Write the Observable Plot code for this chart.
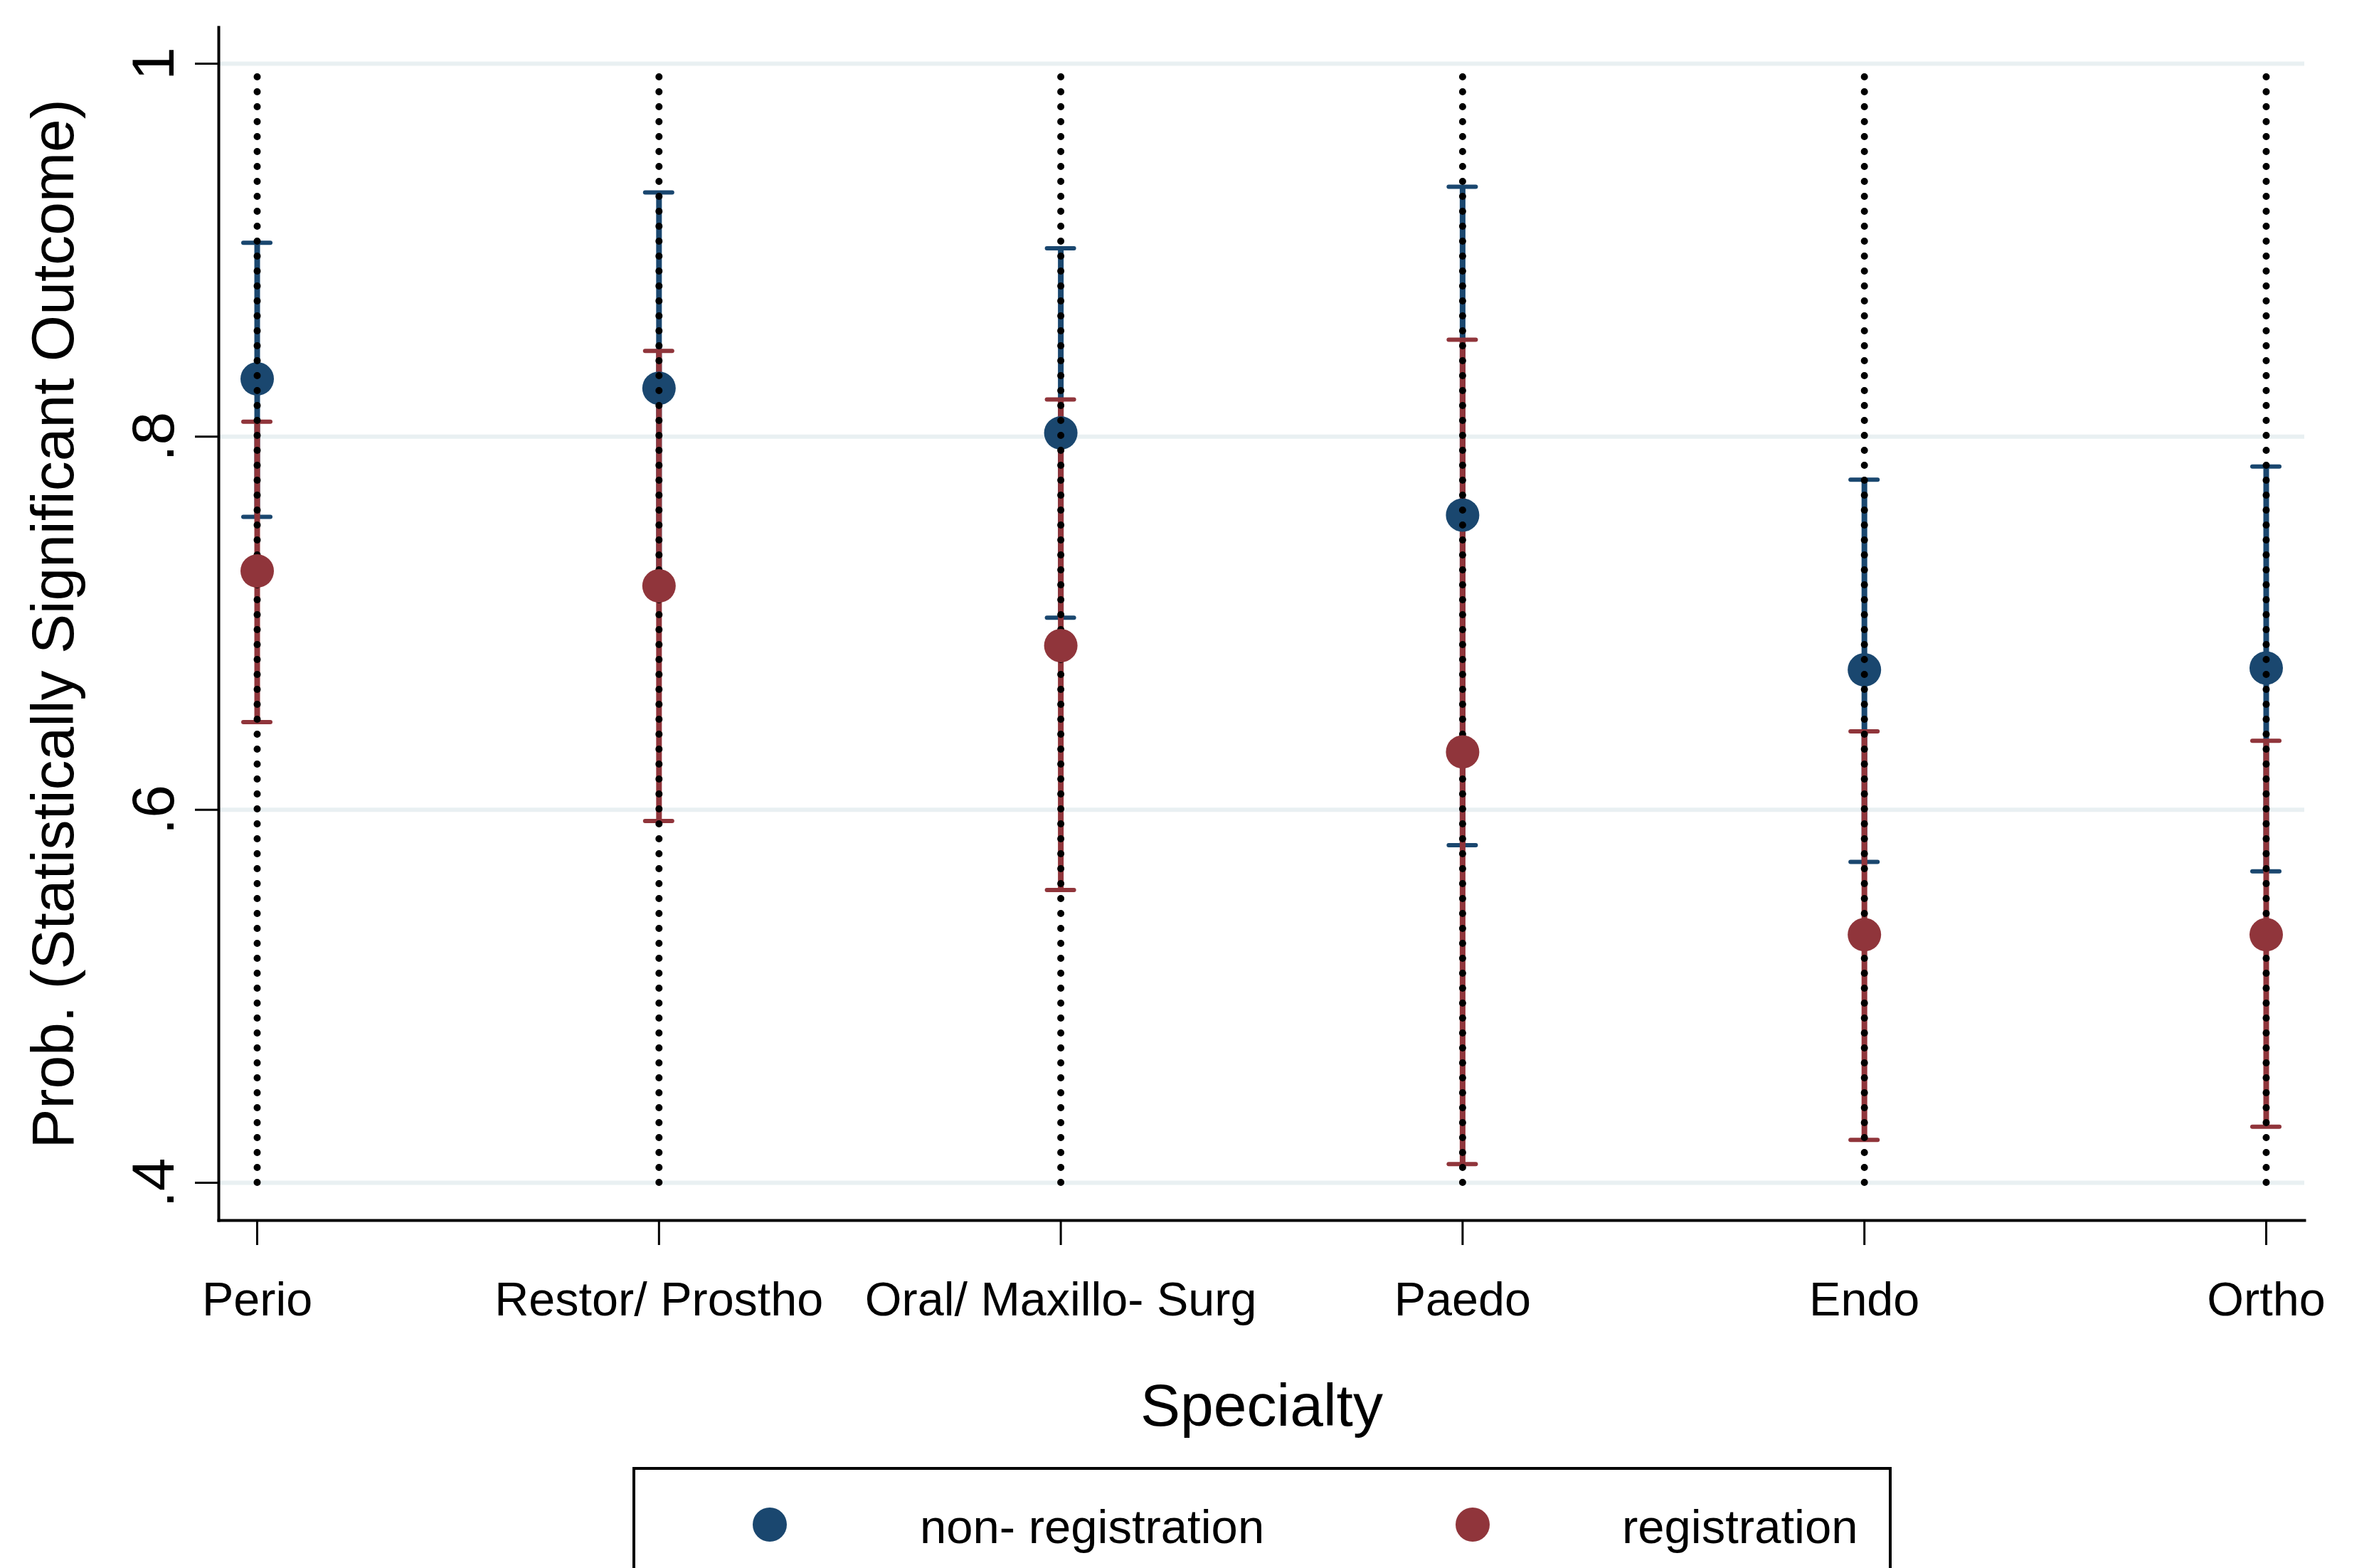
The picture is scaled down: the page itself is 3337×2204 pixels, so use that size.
<!DOCTYPE html>
<html>
<head>
<meta charset="utf-8">
<script src="https://cdn.jsdelivr.net/npm/d3@7"></script>
<script src="https://cdn.jsdelivr.net/npm/@observablehq/plot@0.6"></script>
<style>
  html, body { margin: 0; padding: 0; background: #fff; }
  body { width: 3337px; height: 2204px; overflow: hidden; font-family: "Liberation Sans", Arial, sans-serif; }
  #page { position: relative; width: 3337px; height: 2204px; overflow: hidden; }
  #legend { position: absolute; left: 0; top: 0; }
</style>
</head>
<body>
<div id="page"></div>
<script>
// ---- data ----
const categories = ["Perio", "Restor/ Prostho", "Oral/ Maxillo- Surg", "Paedo", "Endo", "Ortho"];
const seriesNames = ["non- registration", "registration"];
const nonRegEst = [0.831, 0.826, 0.802, 0.758, 0.675, 0.676];
const nonRegLo  = [0.757, 0.721, 0.703, 0.581, 0.572, 0.567];
const nonRegHi  = [0.904, 0.931, 0.901, 0.934, 0.777, 0.784];
const regEst    = [0.728, 0.720, 0.688, 0.631, 0.533, 0.533];
const regLo     = [0.647, 0.594, 0.557, 0.410, 0.423, 0.430];
const regHi     = [0.808, 0.846, 0.820, 0.852, 0.642, 0.637];
const yTicks = [1, 0.8, 0.6, 0.4];
const yTickLabels = ["1", ".8", ".6", ".4"];
const refLow = 0.4, refHigh = 1;
const yTitle = "Prob. (Statistically Significant Outcome)";
const xTitle = "Specialty";

// ---- styles ----
const blue = "#1a476f", red = "#90353b", grid = "#e9f0f2";
const font = "'Liberation Sans', Arial, sans-serif";

const nonReg = categories.map((c, i) => ({cat: c, est: nonRegEst[i], lo: nonRegLo[i], hi: nonRegHi[i]}));
const reg = categories.map((c, i) => ({cat: c, est: regEst[i], lo: regLo[i], hi: regHi[i]}));

const W = 3337, H = 2062;
const mL = 307, mR = 98, mT = 38, mB = H - 1715;
const yDomain = [0.4 - 53 / 2621.67, 1 + 51 / 2621.67];

function ciMarks(data, color) {
  return [
    Plot.ruleX(data, {x: "cat", y1: "lo", y2: "hi", stroke: color, strokeWidth: 8}),
    Plot.tickY(data, {x: "cat", y: "hi", stroke: color, strokeWidth: 6, strokeLinecap: "round"}),
    Plot.tickY(data, {x: "cat", y: "lo", stroke: color, strokeWidth: 6, strokeLinecap: "round"})
  ];
}

const chart = Plot.plot({
  width: W, height: H,
  marginLeft: mL, marginRight: mR, marginTop: mT, marginBottom: mB,
  style: {fontFamily: font, background: "white", color: "black", overflow: "visible"},
  x: {type: "band", domain: categories, paddingInner: 0.9327, paddingOuter: 0.062, round: false, axis: null},
  y: {domain: yDomain, axis: null},
  marks: [
    Plot.ruleY(yTicks, {stroke: grid, strokeWidth: 6}),
    Plot.axisY({ticks: yTicks, tickSize: 33, strokeWidth: 3, tickFormat: () => "", stroke: "black", label: null}),
    Plot.axisX({tickSize: 35, strokeWidth: 3, tickFormat: () => "", stroke: "black", label: null}),
    Plot.text(yTicks, {y: d => d, text: (d, i) => yTickLabels[i], frameAnchor: "left", dx: -64, rotate: -90,
      lineAnchor: "bottom", textAnchor: "middle", fontSize: 84, fill: "black"}),
    Plot.text([yTitle], {frameAnchor: "left", text: d => d, dx: -205, rotate: -90,
      lineAnchor: "bottom", textAnchor: "middle", fontSize: 84, fill: "black"}),
    Plot.text(categories, {x: d => d, text: d => d, frameAnchor: "bottom", dy: 133,
      lineAnchor: "bottom", textAnchor: "middle", fontSize: 66.5, fill: "black"}),
    Plot.text([xTitle], {text: d => d, frameAnchor: "bottom", dy: 288,
      lineAnchor: "bottom", textAnchor: "middle", fontSize: 84, fill: "black"}),
    Plot.frame({anchor: "left", stroke: "black", strokeWidth: 4}),
    Plot.frame({anchor: "bottom", stroke: "black", strokeWidth: 4}),
    ...ciMarks(nonReg, blue),
    ...ciMarks(reg, red),
    Plot.dot(nonReg, {x: "cat", y: "est", r: 23.5, fill: blue, stroke: null}),
    Plot.ruleX(categories, {x: d => d, y1: () => refLow, y2: () => refHigh, stroke: "black", strokeWidth: 10,
      strokeDasharray: "0 21", strokeLinecap: "round"}),
    Plot.dot(reg, {x: "cat", y: "est", r: 23.5, fill: red, stroke: null})
  ]
});

const page = document.getElementById("page");
page.appendChild(chart);

// ---- legend (below the plot SVG) ----
const legendTop = H;
const lg = d3.select(page).append("svg")
  .attr("id", "legend")
  .attr("width", W).attr("height", 2204 - legendTop)
  .style("top", legendTop + "px")
  .style("font-family", font);
lg.append("rect")
  .attr("x", 891).attr("y", 2)
  .attr("width", 1766).attr("height", 400)
  .attr("fill", "white").attr("stroke", "black").attr("stroke-width", 4);
const items = [
  {name: seriesNames[0], color: blue, cx: 1082, tx: 1293},
  {name: seriesNames[1], color: red, cx: 2070, tx: 2280}
];
const g = lg.selectAll("g.item").data(items).join("g").attr("class", "item");
g.append("circle").attr("cx", d => d.cx).attr("cy", 2143 - legendTop).attr("r", 24).attr("fill", d => d.color);
g.append("text").attr("x", d => d.tx).attr("y", 2169 - legendTop)
  .attr("font-size", 67).attr("fill", "black").text(d => d.name);
</script>
</body>
</html>
